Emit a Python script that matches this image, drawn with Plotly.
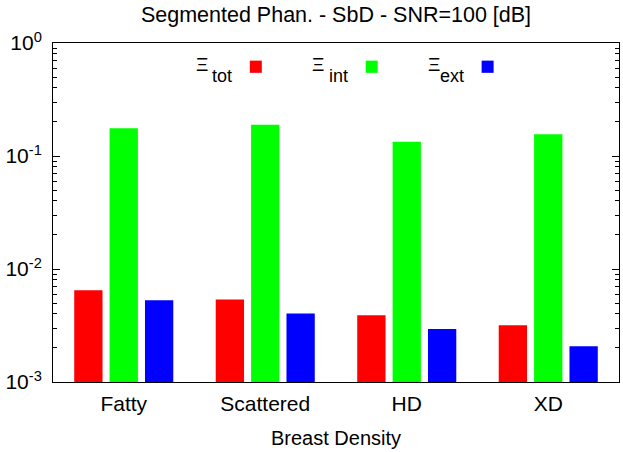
import plotly.graph_objects as go

categories = ["Fatty", "Scattered", "HD", "XD"]
xi_tot = [0.0065, 0.00537, 0.0039, 0.00318]
xi_int = [0.176, 0.189, 0.134, 0.156]
xi_ext = [0.0053, 0.00404, 0.00295, 0.00207]
series_names = ["tot", "int", "ext"]
series_colors = ["#ff0000", "#00ff00", "#0000ff"]
y_tick_vals = [1e-3, 1e-2, 1e-1, 1]
y_tick_text = ["10<sup>-3</sup>", "10<sup>-2</sup>", "10<sup>-1</sup>", "10<sup>0</sup>"]
y_minor_vals = [m * d for d in [1e-3, 1e-2, 1e-1] for m in range(2, 10)]

FONT = "Liberation Sans, Arial, sans-serif"
fig = go.Figure()
for name, vals, col in zip(series_names, [xi_tot, xi_int, xi_ext], series_colors):
    fig.add_trace(go.Bar(x=categories, y=vals, name=name, marker=dict(color=col, line=dict(width=0)),
                         showlegend=False, hoverinfo="skip"))

# legend drawn gnuplot-style: Ξ with subscript, then colour box
L, R = 53, 619.5
def px2paper(px):
    return (px - L) / (R - L)
legend_box_centers = [256, 372, 488]
for name, col, cx in zip(series_names, series_colors, legend_box_centers):
    fig.add_annotation(x=px2paper(cx - 23), y=0.903, xref="paper", yref="paper",
                       text=name, showarrow=False, xanchor="right", yanchor="middle",
                       borderpad=0, font=dict(family=FONT, size=18, color="black"))
    fig.add_annotation(x=px2paper(cx - 47), y=0.937,
                       xref="paper", yref="paper", borderpad=0,
                       text="Ξ", showarrow=False, xanchor="right", yanchor="middle",
                       font=dict(family=FONT, size=19, color="black"))
    fig.add_shape(type="rect", xref="paper", yref="paper",
                  x0=px2paper(cx - 6), x1=px2paper(cx + 6), y0=0.912, y1=0.948,
                  fillcolor=col, line=dict(width=0))

fig.update_layout(
    width=623, height=452,
    margin=dict(l=53, r=3.5, t=43.3, b=70.3),
    paper_bgcolor="white", plot_bgcolor="white",
    barmode="group", bargap=0.25, bargroupgap=0.2,
    font=dict(family=FONT, size=21, color="black"),
    title=dict(text="Segmented Phan. - SbD - SNR=100 [dB]", x=0.5, xref="paper",
               xanchor="center", y=0.985, yref="container", yanchor="top",
               font=dict(size=21.5)),
)
fig.update_xaxes(showline=True, linecolor="black", linewidth=1, mirror=True,
                 ticks="", range=[-0.5, 3.5], automargin=False,
                 tickfont=dict(size=21), ticklabelstandoff=3,
                 title=dict(text="Breast Density", standoff=16, font=dict(size=20)))
fig.update_yaxes(type="log", range=[-3, 0], showline=True, linecolor="black", linewidth=1,
                 mirror="ticks", ticks="inside", ticklen=7, tickcolor="black",
                 tickvals=y_tick_vals, ticktext=y_tick_text, showgrid=False,
                 ticklabelstandoff=6, automargin=False, tickfont=dict(size=21),
                 minor=dict(ticks="inside", ticklen=4, tickcolor="black", showgrid=False,
                            tickvals=y_minor_vals))

fig.write_html("out.html", config={"displayModeBar": False},
               post_script="document.body.style.margin='0';")
